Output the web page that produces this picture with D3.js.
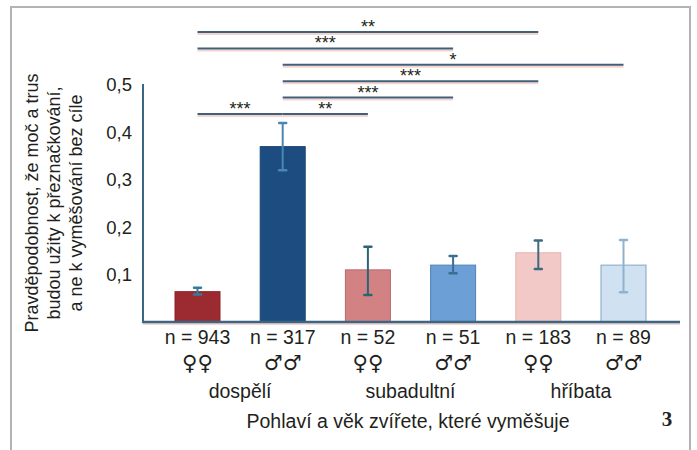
<!DOCTYPE html>
<html><head><meta charset="utf-8">
<script src="https://cdn.jsdelivr.net/npm/d3@7"></script>
<style>body{margin:0;background:#fff}svg{display:block}</style>
</head><body>
<script>
// ---- data ----
const nLabels = ["n = 943","n = 317","n = 52","n = 51","n = 183","n = 89"];
const sexLabels = ["♀♀","♂♂","♀♀","♂♂","♀♀","♂♂"];
const groupLabels = ["dospělí","subadultní","hříbata"];
const values = [0.064, 0.370, 0.110, 0.120, 0.146, 0.120];
const errLow = [0.058, 0.320, 0.057, 0.103, 0.112, 0.063];
const errHigh = [0.072, 0.420, 0.159, 0.139, 0.172, 0.173];
const yTicks = [0.1, 0.2, 0.3, 0.4, 0.5];
const yTickLabels = ["0,1","0,2","0,3","0,4","0,5"];
const compFrom = [0, 0, 1, 1, 1, 1, 0];
const compTo   = [4, 3, 5, 4, 3, 2, 1];
const compLabel = ["**","***","*","***","***","**","***"];
const compRow  = [0, 1, 2, 3, 4, 5, 5];
const yTitle = ["Pravděpodobnost, že moč a trus","budou užity k přeznačkování,","a ne k vyměšování bez cíle"];
const xTitle = "Pohlaví a věk zvířete, které vyměšuje";
const figNum = "3";

// ---- styles ----
const barFill = ["#9c2b31","#1d4d80","#d38283","#6b9fd6","#f2c9c7","#d0e1f2"];
const barStroke = ["#8a2429","#1a4572","#b9676a","#4f83b8","#e3b3b2","#7fa6c8"];
const errColor = ["#2f7e9e","#4a86b3","#2a6478","#3a6f90","#3e6a80","#8fb3cf"];
const axisColor = "#3b6782";
const textColor = "#231f20";
const font = "'Liberation Sans', Arial, sans-serif";

const W = 697, H = 450;
const svg = d3.select("body").append("svg").attr("width", W).attr("height", H);

// frame
svg.append("path").attr("d", `M11,460 L11,7 L690,7 L690,460`)
  .attr("fill","none").attr("stroke","#b3b3b3").attr("stroke-width",2);

const x = d3.scaleBand().domain(d3.range(values.length)).range([154.9, 666.1])
  .paddingInner(0.46).paddingOuter(0.23);
const y = d3.scaleLinear().domain([0, 0.5]).range([322, 85]);
const cx = i => x(i) + x.bandwidth()/2;

// bars
svg.append("g").selectAll("rect").data(values).join("rect")
  .attr("x", (d,i) => x(i) + 0.5).attr("width", x.bandwidth() - 1)
  .attr("y", d => y(d)).attr("height", d => y(0) - y(d))
  .attr("fill", (d,i) => barFill[i]).attr("stroke", (d,i) => barStroke[i]).attr("stroke-width", 1);

// error bars
const eg = svg.append("g");
values.forEach((v,i) => {
  eg.append("line").attr("x1", cx(i)).attr("x2", cx(i))
    .attr("y1", y(errLow[i])).attr("y2", y(errHigh[i]))
    .attr("stroke", errColor[i]).attr("stroke-width", 2);
  [errLow[i], errHigh[i]].forEach(e => {
    eg.append("line").attr("x1", cx(i)-3.5).attr("x2", cx(i)+3.5)
      .attr("y1", y(e)).attr("y2", y(e))
      .attr("stroke", errColor[i]).attr("stroke-width", 2.5).attr("stroke-linecap","round");
  });
});

// axes
const yAxis = d3.axisLeft(y).tickValues(yTicks).tickSize(0).tickPadding(11)
  .tickFormat((d,i) => yTickLabels[i]);
const gy = svg.append("g").attr("transform", "translate(143,0)").call(yAxis);
gy.select(".domain").remove();
gy.selectAll("text").attr("font-family", font).attr("font-size", 18.5).attr("fill", textColor);
svg.append("line").attr("x1",143).attr("x2",143).attr("y1", y(0.5)-1).attr("y2", y(0))
  .attr("stroke", axisColor).attr("stroke-width", 2);
svg.append("line").attr("x1",143).attr("x2",680).attr("y1", y(0)+2).attr("y2", y(0)+2)
  .attr("stroke", "#f6d6d4").attr("stroke-width", 2);
svg.append("line").attr("x1",142).attr("x2",680).attr("y1", y(0)).attr("y2", y(0))
  .attr("stroke", axisColor).attr("stroke-width", 2.5);

// x labels
const xl = svg.append("g").attr("font-family", font).attr("fill", textColor).attr("text-anchor","middle");
xl.selectAll("text.n").data(nLabels).join("text").attr("class","n")
  .attr("x",(d,i)=>cx(i)).attr("y",343.5).attr("font-size",19.5).text(d=>d);
xl.selectAll("text.s").data(sexLabels).join("text").attr("class","s")
  .attr("x",(d,i)=>cx(i)).attr("y",370).attr("font-size",21)
  .attr("font-family","'DejaVu Sans', sans-serif").text(d=>d);
xl.selectAll("text.g").data(groupLabels).join("text").attr("class","g")
  .attr("x",(d,i)=>(cx(2*i)+cx(2*i+1))/2).attr("y",397.5).attr("font-size",19.5).text(d=>d);
xl.append("text").attr("x", 408).attr("y", 427.5).attr("font-size",19.5).text(xTitle);
svg.append("text").attr("x", 667).attr("y", 426).attr("text-anchor","middle")
  .attr("font-family","'Liberation Serif', 'DejaVu Serif', serif").attr("font-weight","bold")
  .attr("font-size",21).attr("fill",textColor).text(figNum);

// y title
const yt = svg.append("text").attr("transform","translate(0,203) rotate(-90)")
  .attr("font-family", font).attr("font-size",18).attr("fill",textColor).attr("text-anchor","middle");
yTitle.forEach((t,i) => {
  yt.append("tspan").attr("x",0).attr("y", 32 + i*22).attr("dy","0.35em").text(t);
});

// significance
const rowY = r => 32 + r * 16.4;
const sg = svg.append("g");
compLabel.forEach((lab,k) => {
  const x1 = cx(compFrom[k]), x2 = cx(compTo[k]), yy = rowY(compRow[k]);
  sg.append("line").attr("x1",x1).attr("x2",x2).attr("y1",yy+2).attr("y2",yy+2)
    .attr("stroke","#f7d3cf").attr("stroke-width",2);
  sg.append("line").attr("x1",x1).attr("x2",x2).attr("y1",yy).attr("y2",yy)
    .attr("stroke","#3e6079").attr("stroke-width",2);
  sg.append("text").attr("x",(x1+x2)/2).attr("y",yy+1).attr("text-anchor","middle")
    .attr("font-family",font).attr("font-size",18).attr("fill",textColor).text(lab);
});
</script>
</body></html>
